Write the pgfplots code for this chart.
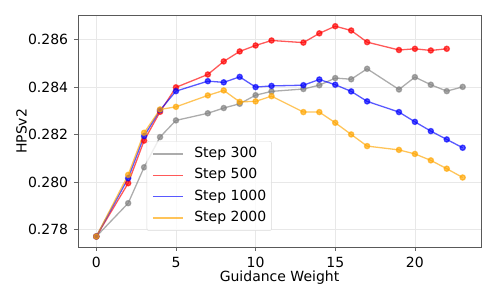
\documentclass[border=0pt]{standalone}
\usepackage{fontspec}
\setmainfont{DejaVu Sans}
\usepackage{pgfplots}
\pgfplotsset{compat=1.18}
\definecolor{mplorange}{HTML}{FFA500}
\definecolor{mplgray}{HTML}{808080}
\begin{document}
\fontsize{14}{16.8}\selectfont
\begin{tikzpicture}
\useasboundingbox (-78pt,-52pt) rectangle (419pt,247pt);
\begin{axis}[
  at={(0,0)}, anchor=south west,
  scale only axis, width=403pt, height=231.3pt,
  xmin=-1.15, xmax=24.15, ymin=0.277278, ymax=0.287002,
  xtick={0,5,10,15,20},
  ytick={0.278,0.280,0.282,0.284,0.286},
  scaled y ticks=false,
  /pgf/number format/assume math mode=true,
  yticklabel style={/pgf/number format/fixed, /pgf/number format/fixed zerofill, /pgf/number format/precision=3},
  tick label style={font=\fontsize{14}{16.8}\selectfont, inner sep=0pt},
  yticklabel style={anchor=east, xshift=-5.7pt},
  xticklabel style={anchor=north, yshift=-6.3pt},
  tick align=outside, major tick length=4pt,
  xtick pos=lower, ytick pos=left,
  tick style={black!60, line width=0.8pt},
  axis line style={black!65, line width=0.8pt},
  grid=major, major grid style={black!9, line width=0.8pt},
  xlabel={Guidance Weight}, ylabel={HPSv2},
  label style={font=\fontsize{14}{16.8}\selectfont, inner sep=0pt},
  xlabel style={at={(axis description cs:0.5,-0.147)}, anchor=base},
  ylabel style={at={(axis description cs:-0.1273,0.5)}, anchor=base, rotate=0},
  legend style={at={(0.1705,0.458)}, anchor=north west, draw=black!15, rounded corners=2pt,
    fill=white, fill opacity=0.8, draw opacity=1, text opacity=1, inner xsep=5.3pt, inner ysep=6pt,
    row sep=7.8pt, font=\fontsize{14}{16.8}\selectfont,
    nodes={inner sep=0pt, text height=10.2pt, text depth=3.3pt}},
  legend cell align=left,
  legend image code/.code={\draw[#1, mark=none, line width=1.5pt, opacity=0.65] (0pt,0pt) -- (30pt,0pt); \path (40.7pt,0pt);},
  every axis plot/.append style={line width=1.3pt, mark=*, mark size=2.6pt, opacity=0.65},
]
\addplot[color=mplgray, mark options={fill=mplgray, draw=mplgray}] coordinates {
(0,0.27772) (2,0.27912) (3,0.28063) (4,0.2819) (5,0.2826) (7,0.2829) (8,0.28312) (9,0.2833) (10,0.28366) (11,0.28382) (13,0.28392) (14,0.28408) (15,0.28438) (16,0.28433) (17,0.28477) (19,0.2839) (20,0.28442) (21,0.2841) (22,0.28383) (23,0.28401)};
\addlegendentry{Step 300}
\addplot[color=red, mark options={fill=red, draw=red}] coordinates {
(0,0.27772) (2,0.27996) (3,0.28175) (4,0.28296) (5,0.28399) (7,0.28453) (8,0.28508) (9,0.2855) (10,0.28575) (11,0.28596) (13,0.28587) (14,0.28626) (15,0.28656) (16,0.28638) (17,0.28589) (19,0.28556) (20,0.28561) (21,0.28554) (22,0.28561)};
\addlegendentry{Step 500}
\addplot[color=blue, mark options={fill=blue, draw=blue}] coordinates {
(0,0.27772) (2,0.28017) (3,0.28194) (4,0.28303) (5,0.28383) (7,0.28425) (8,0.2842) (9,0.28443) (10,0.284) (11,0.28405) (13,0.28408) (14,0.28432) (15,0.2841) (16,0.28382) (17,0.2834) (19,0.28295) (20,0.28254) (21,0.28215) (22,0.2818) (23,0.28145)};
\addlegendentry{Step 1000}
\addplot[color=mplorange, mark options={fill=mplorange, draw=mplorange}] coordinates {
(0,0.27772) (2,0.28031) (3,0.28208) (4,0.28306) (5,0.28317) (7,0.28365) (8,0.28386) (9,0.28338) (10,0.2834) (11,0.28362) (13,0.28295) (14,0.28295) (15,0.2825) (16,0.28201) (17,0.28152) (19,0.28136) (20,0.28119) (21,0.28092) (22,0.28057) (23,0.2802)};
\addlegendentry{Step 2000}
\end{axis}
\end{tikzpicture}
\end{document}
